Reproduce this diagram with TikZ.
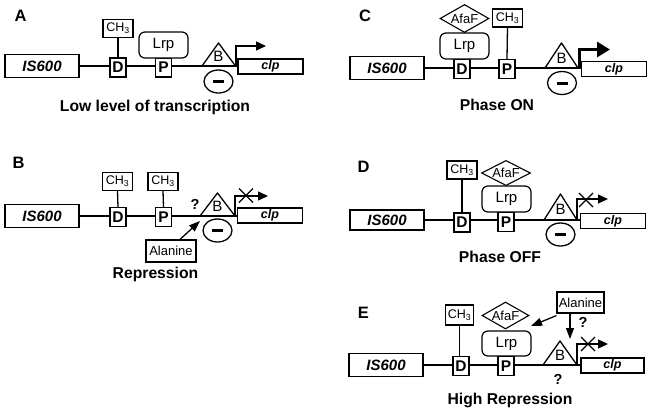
\documentclass[tikz,border=0pt]{standalone}
\usepackage{fontspec}
\setmainfont{Liberation Sans}
\usetikzlibrary{shapes.geometric,arrows.meta}
\tikzset{
 bx/.style={draw,line width=1.4pt,inner sep=0pt,fill=white},
 sz/.style 2 args={minimum width=#1pt,minimum height=#2pt},
 letter/.style={font=\fontsize{16.5}{16.5}\selectfont\bfseries},
 ttl/.style={font=\fontsize{15.7}{16}\selectfont\bfseries},
 isbox/.style={bx,sz={74}{23},font=\fontsize{15}{15}\selectfont\bfseries\itshape},
 site/.style={bx,sz={16}{19},font=\fontsize{15.5}{15.5}\selectfont\bfseries},
 ch/.style={bx,line width=1.2pt,sz={30}{18},font=\fontsize{12.5}{12.5}\selectfont},
 lrp/.style={bx,line width=1.2pt,rounded corners=6pt,sz={49}{26},font=\fontsize{15}{15}\selectfont},
 afaf/.style={draw,line width=1.1pt,diamond,inner sep=0pt,aspect=1.75,sz={49}{28},font=\fontsize{13}{13}\selectfont},
 clpbox/.style={bx,sz={65}{15},font=\fontsize{12.5}{12.5}\selectfont\bfseries\itshape},
 ell/.style={draw,line width=1.3pt,ellipse,inner sep=0pt,sz={29}{23}},
 ala/.style={bx,line width=1.2pt,sz={50}{22},font=\fontsize{13}{13}\selectfont},
 q/.style={font=\fontsize{14.5}{14.5}\selectfont\bfseries,inner sep=0pt},
 bl/.style={font=\fontsize{15}{15}\selectfont,inner sep=0pt},
 dna/.style={line width=1.3pt},
 prom/.style={line width=1.3pt,-{Triangle[length=10pt,width=9pt]}},
 promon/.style={line width=3pt,-{Triangle[length=13pt,width=15pt]}},
 eff/.style={line width=1.3pt,-{Triangle[length=11pt,width=8pt]}},
 minus/.style={line width=3pt},
 xmark/.style={line width=1.4pt},
}
\begin{document}
\begin{tikzpicture}[x=1pt,y=-1pt]
\useasboundingbox (0,0) rectangle (649,410);

% ================= Panel A =================
\node[letter] (A-lab) at (20.5,15.5) {A};
\node[isbox] (A-is) at (42,66) {IS600};
\node[site] (A-d) at (118,67.5) {D};
\node[ch] (A-ch) at (118,28.5) {CH\textsubscript{3}};
\node[site] (A-p) at (163.5,67.5) {P};
\node[lrp] (A-lrp) at (163.5,45) {Lrp};
\node[clpbox] (A-clp) at (270.5,66.5) {clp};
\draw[dna] (A-ch.south) -- (A-d.north);
\draw[dna] (A-is.east) -- (A-is.east -| A-d.west);
\draw[dna] (A-is.east -| A-d.east) -- (A-is.east -| A-p.west);
\draw[dna] (A-is.east -| A-p.east) -- (A-is.east -| A-clp.west);
\coordinate (A-t1) at (202,66); \coordinate (A-t2) at (218.5,43); \coordinate (A-t3) at (235.5,66);
\draw[dna,line join=round] (A-t1) -- (A-t2) -- (A-t3) -- cycle;
\node[bl] (A-b) at (218.5,56) {B};
\node[ell] (A-ell) at (218.5,81.5) {};
\draw[minus] (A-ell.center) +(-5.5,0) -- +(5.5,0);
\coordinate (A-tss) at (236,66); \coordinate (A-arr) at (266,46);
\draw[prom] (A-tss) |- (A-arr);
\node[ttl] (A-ttl) at (155,107) {Low level of transcription};

% ================= Panel B =================
\node[letter] (B-lab) at (18.5,163) {B};
\node[isbox] (B-is) at (42,216) {IS600};
\node[site] (B-d) at (118,217) {D};
\node[ch] (B-ch1) at (117.5,181.5) {CH\textsubscript{3}};
\node[site] (B-p) at (163.5,217) {P};
\node[ch] (B-ch2) at (163,181.5) {CH\textsubscript{3}};
\node[clpbox] (B-clp) at (270,215.5) {clp};
\draw[dna] (B-ch1.south) -- (B-d.north);
\draw[dna] (B-ch2.south) -- (B-p.north);
\draw[dna] (B-is.east) -- (B-is.east -| B-d.west);
\draw[dna] (B-is.east -| B-d.east) -- (B-is.east -| B-p.west);
\draw[dna] (B-is.east -| B-p.east) -- (B-is.east -| B-clp.west);
\coordinate (B-t1) at (200,216); \coordinate (B-t2) at (217.5,193); \coordinate (B-t3) at (235,216);
\draw[dna,line join=round] (B-t1) -- (B-t2) -- (B-t3) -- cycle;
\node[bl] (B-b) at (217.5,206) {B};
\node[q] (B-q) at (195,204) {?};
\node[ell] (B-ell) at (217.5,230.5) {};
\draw[minus] (B-ell.center) +(-5.5,0) -- +(5.5,0);
\node[ala] (B-ala) at (171,251) {Alanine};
\coordinate (B-tip) at (200,221);
\draw[eff] ([xshift=9pt]B-ala.north) -- (B-tip);
\coordinate (B-tss) at (235,216); \coordinate (B-arr) at (268,196);
\draw[prom] (B-tss) |- (B-arr);
\coordinate (B-x) at (246,195.5);
\draw[xmark] (B-x) +(-7,-7) -- +(7,7) (B-x) +(-7,7) -- +(7,-7);
\node[ttl] (B-ttl) at (155.5,274) {Repression};

% ================= Panel C =================
\node[letter] (C-lab) at (365,15.5) {C};
\node[isbox] (C-is) at (387,68) {IS600};
\node[site] (C-d) at (462,69) {D};
\node[lrp] (C-lrp) at (464.5,46) {Lrp};
\node[afaf] (C-af) at (464.5,18.5) {AfaF};
\node[site] (C-p) at (507,69) {P};
\node[ch] (C-ch) at (507.5,18) {CH\textsubscript{3}};
\node[clpbox] (C-clp) at (614,69) {clp};
\draw[dna] (C-ch.south) -- (C-p.north);
\draw[dna] (C-is.east) -- (C-is.east -| C-d.west);
\draw[dna] (C-is.east -| C-d.east) -- (C-is.east -| C-p.west);
\draw[dna] (C-is.east -| C-p.east) -- (C-is.east -| C-clp.west);
\coordinate (C-t1) at (545,68); \coordinate (C-t2) at (561.5,43); \coordinate (C-t3) at (578,68);
\draw[dna,line join=round] (C-t1) -- (C-t2) -- (C-t3) -- cycle;
\node[bl] (C-b) at (561.5,58) {B};
\node[ell] (C-ell) at (562,83) {};
\draw[minus] (C-ell.center) +(-5.5,0) -- +(5.5,0);
\coordinate (C-tss) at (579.5,68); \coordinate (C-arr) at (610,49.5);
\draw[promon] (C-tss) |- (C-arr);
\node[ttl] (C-ttl) at (497,105) {Phase ON};

% ================= Panel D =================
\node[letter] (D-lab) at (363.5,167) {D};
\node[isbox,minimum height=20pt] (D-is) at (387,220) {IS600};
\node[site] (D-d) at (462,222.5) {D};
\node[ch] (D-ch) at (462,170) {CH\textsubscript{3}};
\node[afaf,minimum height=23pt] (D-af) at (506,173) {AfaF};
\node[lrp] (D-lrp) at (506.5,199) {Lrp};
\node[site] (D-p) at (506,222) {P};
\node[clpbox] (D-clp) at (613,221) {clp};
\draw[dna] (D-ch.south) -- (D-d.north);
\draw[dna] (D-is.east) -- (D-is.east -| D-d.west);
\draw[dna] (D-is.east -| D-d.east) -- (D-is.east -| D-p.west);
\draw[dna] (D-is.east -| D-p.east) -- (D-is.east -| D-clp.west);
\coordinate (D-t1) at (544,220); \coordinate (D-t2) at (560.5,194); \coordinate (D-t3) at (577,220);
\draw[dna,line join=round] (D-t1) -- (D-t2) -- (D-t3) -- cycle;
\node[bl] (D-b) at (560.5,209) {B};
\node[ell] (D-ell) at (560.5,234.5) {};
\draw[minus] (D-ell.center) +(-5.5,0) -- +(5.5,0);
\coordinate (D-tss) at (577,220); \coordinate (D-arr) at (608,199);
\draw[prom] (D-tss) |- (D-arr);
\coordinate (D-x) at (586,200);
\draw[xmark] (D-x) +(-7,-7) -- +(7,7) (D-x) +(-7,7) -- +(7,-7);
\node[ttl] (D-ttl) at (500,257) {Phase OFF};

% ================= Panel E =================
\node[letter] (E-lab) at (363.5,313) {E};
\node[isbox] (E-is) at (386,365) {IS600};
\node[site] (E-d) at (461,366) {D};
\node[ch,minimum width=28pt,minimum height=20pt] (E-ch) at (459.5,315) {CH\textsubscript{3}};
\node[afaf,minimum width=47pt,minimum height=27pt] (E-af) at (505.5,315.5) {AfaF};
\node[lrp,minimum height=25pt] (E-lrp) at (506.5,343.5) {Lrp};
\node[site] (E-p) at (506,366) {P};
\node[clpbox,minimum width=63pt] (E-clp) at (612.5,365.5) {clp};
\draw[dna] (E-ch.south) -- (E-ch.south |- E-d.north);
\draw[dna] (E-is.east) -- (E-is.east -| E-d.west);
\draw[dna] (E-is.east -| E-d.east) -- (E-is.east -| E-p.west);
\draw[dna] (E-is.east -| E-p.east) -- (E-is.east -| E-clp.west);
\coordinate (E-t1) at (543,365); \coordinate (E-t2) at (560,341); \coordinate (E-t3) at (577,365);
\draw[dna,line join=round] (E-t1) -- (E-t2) -- (E-t3) -- cycle;
\node[bl] (E-b) at (560,355) {B};
\node[q] (E-q2) at (558,379) {?};
\node[ala,minimum width=47pt,minimum height=21pt] (E-ala) at (580.5,302.5) {Alanine};
\coordinate (E-tip1) at (531,326);
\draw[eff] ([yshift=-2pt]E-ala.south west) -- (E-tip1);
\coordinate (E-tip2) at (570,339);
\draw[eff] (E-ala.south -| E-tip2) -- (E-tip2);
\node[q] (E-q1) at (583,322) {?};
\coordinate (E-tss) at (577,365); \coordinate (E-arr) at (608,344);
\draw[prom] (E-tss) |- (E-arr);
\coordinate (E-x) at (588,344);
\draw[xmark] (E-x) +(-7,-7) -- +(7,7) (E-x) +(-7,7) -- +(7,-7);
\node[ttl] (E-ttl) at (510,400) {High Repression};
\end{tikzpicture}
\end{document}
